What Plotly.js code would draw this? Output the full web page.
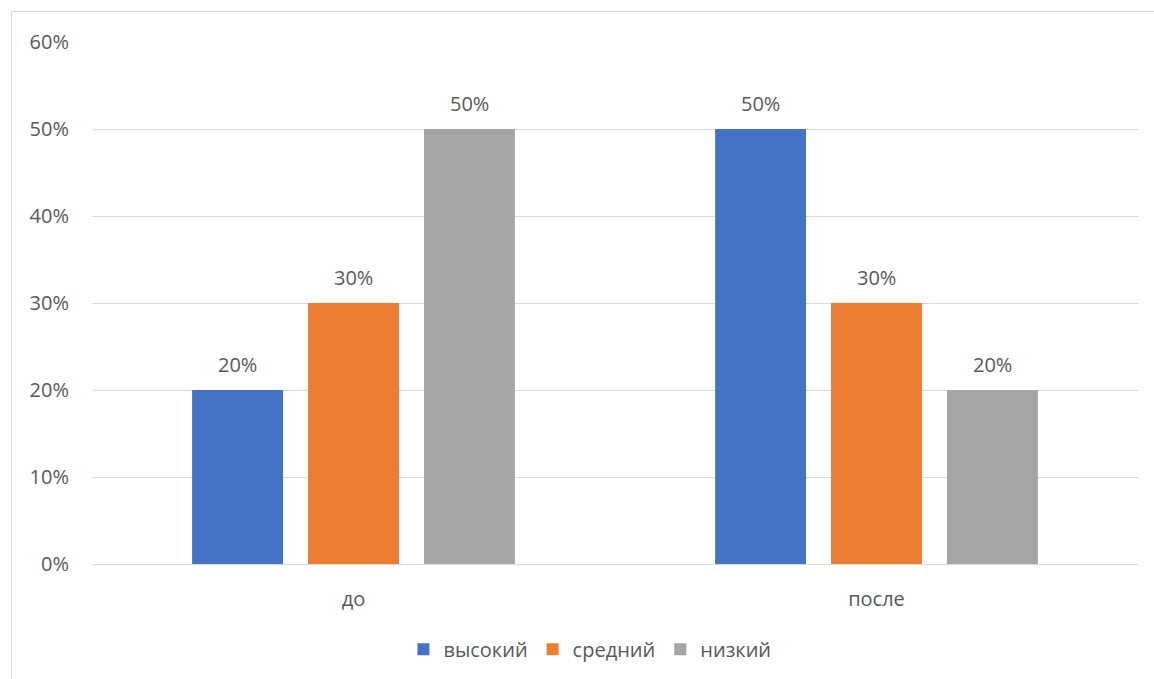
<!DOCTYPE html>
<html>
<head>
<meta charset="utf-8">
<script src="https://cdn.plot.ly/plotly-3.0.1.min.js"></script>
<style>
  html, body { margin: 0; padding: 0; background: #ffffff; }
  #wrap { position: relative; width: 1154px; height: 679px; }
  #chart { width: 1154px; height: 679px; }
  #frame {
    position: absolute; left: 11px; top: 11px; width: 1160px; height: 700px;
    border: 1px solid #D9D9D9; pointer-events: none; box-sizing: border-box;
  }
</style>
</head>
<body>
<div id="wrap">
  <div id="chart"></div>
  <div id="frame"></div>
</div>
<script>
// Уровни до и после
const categories = ['до', 'после'];
const seriesNames = ['высокий', 'средний', 'низкий'];
const vysokiy = [0.20, 0.50];
const sredniy = [0.30, 0.30];
const nizkiy  = [0.50, 0.20];
const seriesColors = ['#4472C4', '#ED7D31', '#A5A5A5'];

const values = [vysokiy, sredniy, nizkiy];
const FONT = 'Open Sans, Noto Sans, sans-serif';
const TEXT_COLOR = '#595959';
const FONT_SIZE = 20;
const BAR_GAP = 0.335;
const GROUP_GAP = 0.216;

const traces = values.map((v, i) => ({
  type: 'bar',
  name: seriesNames[i],
  x: categories,
  y: v,
  marker: { color: seriesColors[i], line: { width: 0 } },
  hoverinfo: 'skip'
}));

// Value labels above each bar, placed at the bar's slot centre on the category axis
const slot = (1 - BAR_GAP) / values.length;
const annotations = [];
values.forEach((v, si) => {
  v.forEach((val, ci) => {
    annotations.push({
      xref: 'x', yref: 'y',
      x: ci + (si - (values.length - 1) / 2) * slot,
      y: val,
      text: Math.round(val * 100) + '%',
      showarrow: false,
      xanchor: 'center', yanchor: 'middle',
      yshift: 26,
      font: { family: FONT, size: FONT_SIZE, color: TEXT_COLOR }
    });
  });
});

const layout = {
  width: 1154,
  height: 679,
  margin: { l: 92, r: 16, t: 42, b: 114 },
  paper_bgcolor: '#ffffff',
  plot_bgcolor: '#ffffff',
  font: { family: FONT, size: FONT_SIZE, color: TEXT_COLOR },
  barmode: 'group',
  bargap: BAR_GAP,
  bargroupgap: GROUP_GAP,
  showlegend: true,
  annotations: annotations,
  legend: {
    orientation: 'h',
    x: 0.476, xanchor: 'center',
    y: -0.161, yanchor: 'middle',
    font: { family: FONT, size: FONT_SIZE, color: TEXT_COLOR },
    itemwidth: 30,
    traceorder: 'normal'
  },
  xaxis: {
    type: 'category',
    showgrid: false,
    showline: true,
    linecolor: '#D9D9D9',
    linewidth: 1,
    ticks: '',
    ticklabelstandoff: 17,
    tickfont: { family: FONT, size: FONT_SIZE, color: TEXT_COLOR },
    fixedrange: true
  },
  yaxis: {
    range: [0, 0.6001],
    dtick: 0.1,
    tickformat: '.0%',
    showgrid: true,
    gridcolor: '#D9D9D9',
    gridwidth: 1,
    zeroline: false,
    showline: false,
    ticks: '',
    ticklabelstandoff: 22,
    tickfont: { family: FONT, size: FONT_SIZE, color: TEXT_COLOR },
    fixedrange: true
  }
};

Plotly.newPlot('chart', traces, layout, { displayModeBar: false, staticPlot: true });
</script>
</body>
</html>
